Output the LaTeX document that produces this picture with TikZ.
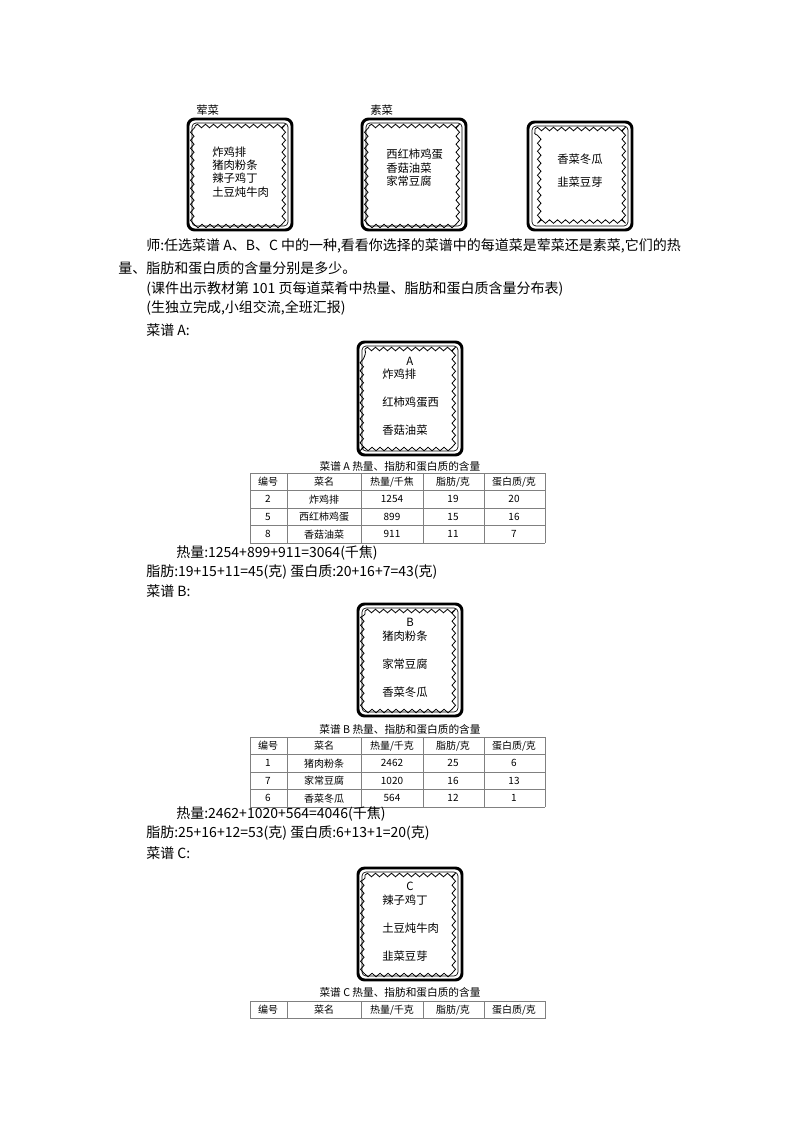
\documentclass[tikz,border=0pt]{standalone}
\usepackage{fontspec}
\setmainfont{Noto Sans CJK SC}
\usetikzlibrary{decorations.pathmorphing}

\tikzset{
  bodytext/.style={anchor=west,font=\fontsize{10.5}{12}\selectfont,inner sep=0pt},
  boxtext/.style={anchor=west,font=\fontsize{8.5}{10}\selectfont,inner sep=0pt},
  celltext/.style={font=\fontsize{7.5}{9}\selectfont,inner sep=0pt},
  captext/.style={font=\fontsize{8}{10}\selectfont,inner sep=0pt}
}
% menu card with wavy border
\newcommand{\menucard}[4]{%
  \draw[line width=2.2pt,rounded corners=5pt] (#1,#2) rectangle (#3,#4);
  \draw[line width=0.5pt,rounded corners=3pt] (#1+4,#2+4) rectangle (#3-4,#4-4);
  \draw[line width=0.6pt,decorate,decoration={snake,amplitude=1.3pt,segment length=6pt}]
    (#1+7,#2+7) -- (#3-7,#2+7) -- (#3-7,#4-7) -- (#1+7,#4-7) -- cycle;
}
% table grid: top y, number of rows, energy header
\newcommand{\foodtable}[3]{%
  \foreach \r in {0,...,#2} \draw[gray,line width=0.5pt] (250,#1+\r*17.5) -- (545,#1+\r*17.5);
  \foreach \c in {250,287,361,423,484,545} \draw[gray,line width=0.5pt] (\c,#1) -- (\c,#1+#2*17.5);
  \node[celltext] at (268,#1+8.75) {编号};
  \node[celltext] at (324,#1+8.75) {菜名};
  \node[celltext] at (392,#1+8.75) {#3};
  \node[celltext] at (453,#1+8.75) {脂肪/克};
  \node[celltext] at (514,#1+8.75) {蛋白质/克};
}
\newcommand{\foodrow}[6]{%
  \node[celltext] at (268,#1+8.75) {#2};
  \node[celltext] at (324,#1+8.75) {#3};
  \node[celltext] at (392,#1+8.75) {#4};
  \node[celltext] at (453,#1+8.75) {#5};
  \node[celltext] at (514,#1+8.75) {#6};
}

\begin{document}
\begin{tikzpicture}[x=0.75pt,y=-0.75pt]
  \useasboundingbox (0,0) rectangle (794,1123);

  % top cards
  \node[boxtext] (meat) at (196,110) {荤菜};
  \node[boxtext] (veg) at (370,110) {素菜};
  \menucard{188}{119}{292}{230}
  \menucard{362}{119}{466}{230}
  \menucard{528}{122}{632}{230}
  \node[boxtext,align=left] (meatlist) at (212,172) {炸鸡排\\猪肉粉条\\辣子鸡丁\\土豆炖牛肉};
  \node[boxtext,align=left] (veglist) at (386,168) {西红柿鸡蛋\\香菇油菜\\家常豆腐};
  \node[boxtext,align=left,font=\fontsize{8.5}{17}\selectfont] (veglist2) at (557,171) {香菜冬瓜\\韭菜豆芽};

  % text
  \node[bodytext] (t1) at (146,246) {师:任选菜谱 A、B、C 中的一种,看看你选择的菜谱中的每道菜是荤菜还是素菜,它们的热};
  \node[bodytext] (t2) at (118,268) {量、脂肪和蛋白质的含量分别是多少。};
  \node[bodytext] (t3) at (146,289) {(课件出示教材第 101 页每道菜肴中热量、脂肪和蛋白质含量分布表)};
  \node[bodytext] (t4) at (146,308) {(生独立完成,小组交流,全班汇报)};
  \node[bodytext] (ma) at (146,330) {菜谱 A:};

  % menu A
  \menucard{358}{342}{462}{455}
  \node[boxtext] (ca) at (406,361) {A};
  \node[boxtext,align=left,font=\fontsize{8.5}{21}\selectfont] (la) at (382,402) {炸鸡排\\红柿鸡蛋西\\香菇油菜};
  \node[captext] (capa) at (400,466) {菜谱 A 热量、指肪和蛋白质的含量};
  \foodtable{473}{4}{热量/千焦}
  \foodrow{490.5}{2}{炸鸡排}{1254}{19}{20}
  \foodrow{508}{5}{西红柿鸡蛋}{899}{15}{16}
  \foodrow{525.5}{8}{香菇油菜}{911}{11}{7}
  \node[bodytext] (ea) at (176,553) {热量:1254+899+911=3064(千焦)};
  \node[bodytext] (fa) at (146,572) {脂肪:19+15+11=45(克)};
  \node[bodytext] (pa) at (290,572) {蛋白质:20+16+7=43(克)};
  \node[bodytext] (mb) at (146,591) {菜谱 B:};

  % menu B
  \menucard{358}{604}{462}{716}
  \node[boxtext] (cb) at (406,622) {B};
  \node[boxtext,align=left,font=\fontsize{8.5}{21}\selectfont] (lb) at (382,664) {猪肉粉条\\家常豆腐\\香菜冬瓜};
  \node[captext] (capb) at (400,729) {菜谱 B 热量、指肪和蛋白质的含量};
  \foodtable{737}{4}{热量/千克}
  \foodrow{754.5}{1}{猪肉粉条}{2462}{25}{6}
  \foodrow{772}{7}{家常豆腐}{1020}{16}{13}
  \foodrow{789.5}{6}{香菜冬瓜}{564}{12}{1}
  \node[bodytext] (eb) at (176,814) {热量:2462+1020+564=4046(千焦)};
  \node[bodytext] (fb) at (146,833) {脂肪:25+16+12=53(克)};
  \node[bodytext] (pb) at (290,833) {蛋白质:6+13+1=20(克)};
  \node[bodytext] (mc) at (146,853) {菜谱 C:};

  % menu C
  \menucard{358}{868}{462}{980}
  \node[boxtext] (cc) at (406,886) {C};
  \node[boxtext,align=left,font=\fontsize{8.5}{21}\selectfont] (lc) at (382,928) {辣子鸡丁\\土豆炖牛肉\\韭菜豆芽};
  \node[captext] (capc) at (400,992) {菜谱 C 热量、指肪和蛋白质的含量};
  \foodtable{1001}{1}{热量/千克}
\end{tikzpicture}
\end{document}
